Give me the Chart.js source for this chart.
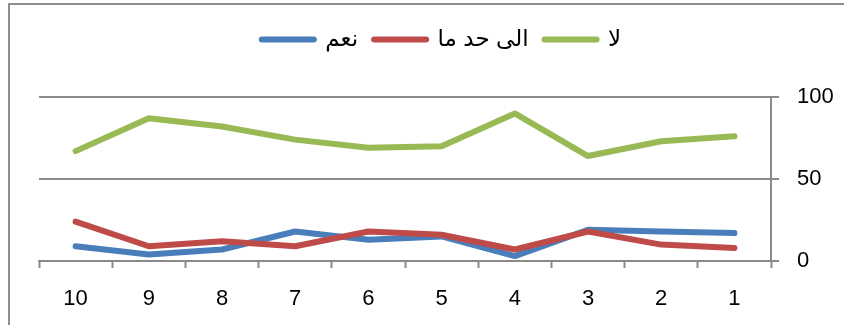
<!DOCTYPE html>
<html>
<head>
<meta charset="utf-8">
<script src="https://cdn.jsdelivr.net/npm/chart.js@4/dist/chart.umd.min.js"></script>
<style>
html, body { margin: 0; padding: 0; overflow: hidden; background: #fff; }
#wrap { position: relative; width: 844px; height: 325px; }
#frame { position: absolute; left: 8px; top: 3px; width: 1000px; height: 1000px; border: 2px solid #8e8e8e; pointer-events: none; }
canvas { position: absolute; left: 0; top: 0; }
</style>
</head>
<body>
<div id="wrap">
<canvas id="lineChart" width="844" height="325"></canvas>
<div id="frame"></div>
</div>
<script>
// categories 1..10 (axis is drawn reversed, like the excel chart)
var categories = ['1', '2', '3', '4', '5', '6', '7', '8', '9', '10'];
var seriesNames = ['نعم', 'الى حد ما', 'لا'];
var seriesColors = ['#4a7ebb', '#be4b48', '#98b954'];
var naam = [17, 18, 19, 3, 15, 13, 18, 7, 4, 9];
var ilaHaddMa = [8, 10, 18, 7, 16, 18, 9, 12, 9, 24];
var laa = [76, 73, 64, 90, 70, 69, 74, 82, 87, 67];
var yTicks = [0, 50, 100];

var allValues = [naam, ilaHaddMa, laa];
var datasets = [];
for (var i = 0; i < seriesNames.length; i++) {
    datasets.push({
        label: seriesNames[i],
        data: allValues[i],
        borderColor: seriesColors[i],
        backgroundColor: seriesColors[i],
        borderWidth: 6,
        borderCapStyle: 'round',
        borderJoinStyle: 'round',
        pointRadius: 0,
        tension: 0,
        order: 2 - i
    });
}

// extra room under the legend, as in the excel chart
var legendGap = {
    id: 'legendGap',
    afterInit: function(chart) {
        var fit = chart.legend.fit;
        chart.legend.fit = function() {
            fit.call(chart.legend);
            this.height += 36;
        };
    }
};

var ctx = document.getElementById('lineChart').getContext('2d');
var lineChart = new Chart(ctx, {
    type: 'line',
    data: {
        labels: categories,
        datasets: datasets
    },
    plugins: [legendGap],
    options: {
        responsive: false,
        animation: false,
        layout: {
            padding: { left: 39, right: 0, top: 12, bottom: 0 }
        },
        plugins: {
            tooltip: { enabled: false },
            legend: {
                position: 'top',
                labels: {
                    usePointStyle: true,
                    pointStyleWidth: 52,
                    boxHeight: 6,
                    padding: 16,
                    color: '#000',
                    font: { family: 'Liberation Sans, DejaVu Sans', size: 23 },
                    generateLabels: function(chart) {
                        return chart.data.datasets.map(function(ds, idx) {
                            return {
                                text: ds.label,
                                fillStyle: ds.borderColor,
                                strokeStyle: ds.borderColor,
                                lineWidth: 6,
                                lineCap: 'round',
                                pointStyle: 'line',
                                fontColor: '#000',
                                datasetIndex: idx
                            };
                        });
                    }
                }
            }
        },
        scales: {
            x: {
                reverse: true,
                offset: true,
                grid: {
                    offset: true,
                    drawOnChartArea: false,
                    drawTicks: true,
                    tickLength: 7,
                    tickWidth: 2,
                    tickColor: '#8a8a8a'
                },
                border: { color: '#8a8a8a', width: 2 },
                ticks: {
                    color: '#000',
                    padding: 18,
                    font: { family: 'Liberation Sans', size: 22 }
                },
                afterFit: function(scale) { scale.height = 64; }
            },
            y: {
                position: 'right',
                min: 0,
                max: 100,
                afterBuildTicks: function(scale) {
                    scale.ticks = yTicks.map(function(v) { return { value: v }; });
                },
                grid: {
                    color: '#8a8a8a',
                    lineWidth: 2,
                    tickLength: 8
                },
                border: { color: '#8a8a8a', width: 2 },
                ticks: {
                    color: '#000',
                    padding: 18,
                    font: { family: 'Liberation Sans', size: 22 }
                },
                afterFit: function(scale) { scale.width = 73; }
            }
        }
    }
});
</script>
</body>
</html>
